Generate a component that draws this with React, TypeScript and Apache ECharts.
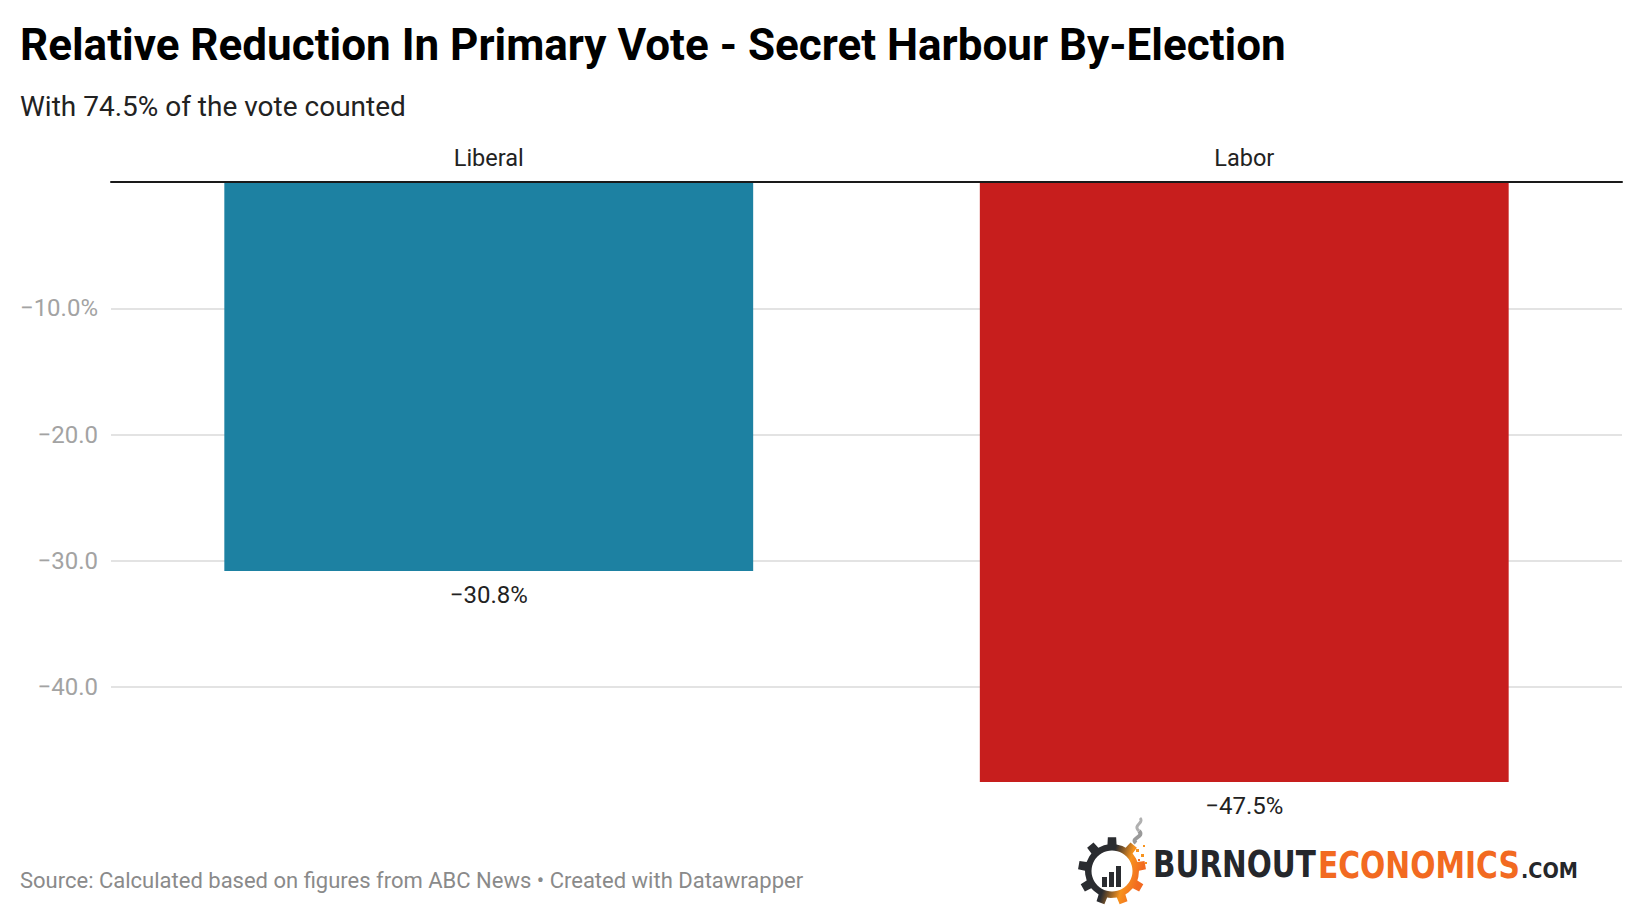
import React, { useEffect, useRef } from "react";
import * as echarts from "echarts";

const categories = ["Liberal", "Labor"];
const values = [-30.8, -47.5];
const valueLabels = ["−30.8%", "−47.5%"];
const barColors = ["#1d81a2", "#c71e1d"];
const yTicks = [-10, -20, -30, -40];
const yTickLabels = ["−10.0%", "−20.0", "−30.0", "−40.0"];

const TITLE = "Relative Reduction In Primary Vote - Secret Harbour By-Election";
const SUBTITLE = "With 74.5% of the vote counted";
const FOOTER = "Source: Calculated based on figures from ABC News • Created with Datawrapper";

function measure(text: string, font: string): number {
  const c = document.createElement("canvas");
  const ctx = c.getContext("2d");
  if (!ctx) return text.length * 10;
  ctx.font = font;
  return ctx.measureText(text).width;
}

function gearPoints(cx: number, cy: number, rOut: number, rIn: number, teeth: number) {
  const pts: number[][] = [];
  const step = (Math.PI * 2) / teeth;
  for (let i = 0; i < teeth; i++) {
    const a = i * step - Math.PI / 2;
    const w = step * 0.22;
    pts.push([cx + rIn * Math.cos(a - step / 2 + w * 0.3), cy + rIn * Math.sin(a - step / 2 + w * 0.3)]);
    pts.push([cx + rIn * Math.cos(a - w * 1.1), cy + rIn * Math.sin(a - w * 1.1)]);
    pts.push([cx + rOut * Math.cos(a - w * 0.8), cy + rOut * Math.sin(a - w * 0.8)]);
    pts.push([cx + rOut * Math.cos(a + w * 0.8), cy + rOut * Math.sin(a + w * 0.8)]);
    pts.push([cx + rIn * Math.cos(a + w * 1.1), cy + rIn * Math.sin(a + w * 1.1)]);
  }
  return pts;
}

export default function App() {
  const ref = useRef<HTMLDivElement>(null);
  useEffect(() => {
    document.body.style.margin = "0";
    if (!ref.current) return;
    const chart = echarts.init(ref.current, undefined, { renderer: "svg" });

    const logoFont = 'bold 37px "DejaVu Sans Condensed"';
    const comFont = 'bold 22px "DejaVu Sans Condensed"';
    const wB = measure("BURNOUT", logoFont);
    const wE = measure("ECONOMICS", logoFont);
    const wC = measure(".COM", comFont);

    const gcx = 1112;
    const gcy = 871;

    const option: any = {
      animation: false,
      backgroundColor: "#ffffff",
      grid: { left: 111, right: 18, top: 182, bottom: 98.5 },
      xAxis: {
        type: "category",
        position: "top",
        data: categories,
        z: 5,
        axisLine: { show: true, lineStyle: { color: "#1a1a1a", width: 2 } },
        axisTick: { show: false },
        axisLabel: { fontFamily: "Roboto", fontSize: 23.5, color: "#222222", margin: 12 },
        splitLine: { show: false },
      },
      yAxis: {
        type: "value",
        min: -50,
        max: 0,
        interval: 10,
        axisLine: { show: false },
        axisTick: { show: false },
        splitLine: { show: true, showMinLine: false, showMaxLine: false, lineStyle: { color: "#e3e3e3", width: 2 } },
        axisLabel: {
          showMinLabel: false,
          showMaxLabel: false,
          margin: 13,
          fontFamily: "Roboto",
          fontSize: 24,
          color: "#a3a3a3",
          formatter: (v: number) => {
            const i = yTicks.indexOf(v);
            return i >= 0 ? yTickLabels[i] : "";
          },
        },
      },
      series: [
        {
          type: "bar",
          barWidth: "70%",
          data: values.map((v, i) => ({ value: v, itemStyle: { color: barColors[i] } })),
          label: {
            show: true,
            position: "bottom",
            distance: 12,
            fontFamily: "Roboto",
            fontSize: 24,
            color: "#222222",
            formatter: (p: any) => valueLabels[p.dataIndex],
          },
        },
      ],
      graphic: [
        {
          type: "text",
          x: 20,
          y: 45,
          style: { text: TITLE, fontFamily: "Roboto", fontWeight: "bold", fontSize: 44, fill: "#000000", verticalAlign: "middle" },
        },
        {
          type: "text",
          x: 20,
          y: 106,
          style: { text: SUBTITLE, fontFamily: "Roboto", fontSize: 28, fill: "#222222", verticalAlign: "middle" },
        },
        {
          type: "text",
          x: 20,
          y: 880,
          style: { text: FOOTER, fontFamily: "Roboto", fontSize: 22, fill: "#8a8a8a", verticalAlign: "middle" },
        },
        // logo: gear
        {
          type: "polygon",
          shape: { points: gearPoints(gcx, gcy, 34, 27, 9) },
          style: {
            fill: new echarts.graphic.LinearGradient(0, 0, 1, 0.3, [
              { offset: 0, color: "#2a2c30" },
              { offset: 0.55, color: "#2a2c30" },
              { offset: 0.8, color: "#f7931e" },
              { offset: 1, color: "#f26a21" },
            ]),
          },
        },
        { type: "circle", shape: { cx: gcx, cy: gcy, r: 20.5 }, style: { fill: "#ffffff" } },
        { type: "rect", shape: { x: gcx - 10, y: gcy + 6, width: 5, height: 10 }, style: { fill: "#2a2c30" } },
        { type: "rect", shape: { x: gcx - 3, y: gcy + 1, width: 5, height: 15 }, style: { fill: "#2a2c30" } },
        { type: "rect", shape: { x: gcx + 4, y: gcy - 5, width: 5, height: 21 }, style: { fill: "#2a2c30" } },
        { type: "rect", shape: { x: gcx + 24, y: gcy - 22, width: 3, height: 3 }, style: { fill: "#f7931e" } },
        { type: "rect", shape: { x: gcx + 29, y: gcy - 17, width: 3, height: 3 }, style: { fill: "#f7931e" } },
        { type: "rect", shape: { x: gcx + 26, y: gcy - 12, width: 2, height: 2 }, style: { fill: "#f26a21" } },
        { type: "rect", shape: { x: gcx + 31, y: gcy - 26, width: 2, height: 2 }, style: { fill: "#f7931e" } },
        { type: "rect", shape: { x: gcx + 33, y: gcy - 9, width: 2, height: 2 }, style: { fill: "#f7931e" } },
        {
          type: "bezierCurve",
          shape: { x1: gcx + 24, y1: gcy - 28, x2: gcx + 27, y2: gcy - 40, cpx1: gcx + 18, cpy1: gcy - 33, cpx2: gcx + 33, cpy2: gcy - 34 },
          style: { stroke: "#9a9a9a", lineWidth: 4, fill: "none" },
        },
        {
          type: "bezierCurve",
          shape: { x1: gcx + 27, y1: gcy - 40, x2: gcx + 28, y2: gcy - 53, cpx1: gcx + 20, cpy1: gcy - 46, cpx2: gcx + 33, cpy2: gcy - 48 },
          style: { stroke: "#b0b0b0", lineWidth: 3, fill: "none" },
        },
        // logo: text
        {
          type: "text",
          x: 1153,
          y: 864.5,
          scaleX: 163 / wB,
          style: { text: "BURNOUT", font: logoFont, fill: "#25272b", verticalAlign: "middle" },
        },
        {
          type: "text",
          x: 1318,
          y: 864.5,
          scaleX: 202 / wE,
          style: { text: "ECONOMICS", font: logoFont, fill: "#f26a21", verticalAlign: "middle" },
        },
        {
          type: "text",
          x: 1521,
          y: 870,
          scaleX: 57 / wC,
          style: { text: ".COM", font: comFont, fill: "#25272b", verticalAlign: "middle" },
        },
      ],
    };
    chart.setOption(option);
    return () => chart.dispose();
  }, []);
  return <div ref={ref} style={{ width: 1640, height: 912 }} />;
}
